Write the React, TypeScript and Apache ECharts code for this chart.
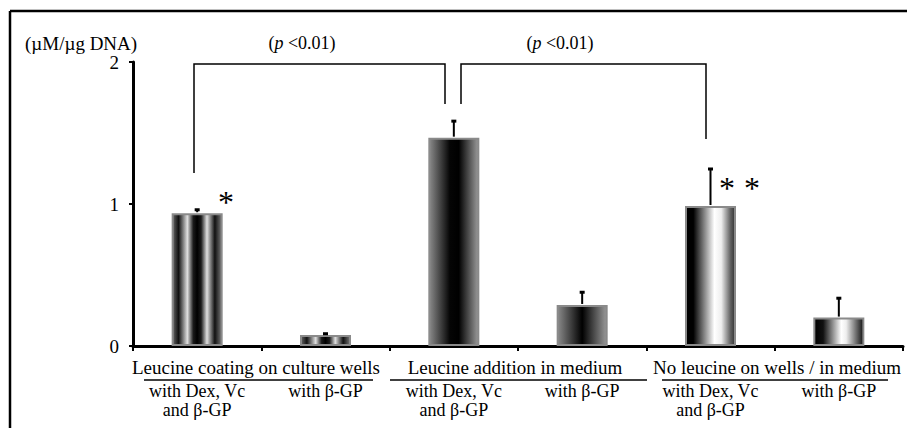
import React, { useEffect, useRef } from "react";
import * as echarts from "echarts";

const categories = ["with Dex, Vc\nand β-GP", "with β-GP", "with Dex, Vc\nand β-GP", "with β-GP", "with Dex, Vc\nand β-GP", "with β-GP"];
const groupLabels = ["Leucine coating on culture wells", "Leucine addition in medium", "No leucine on wells / in medium"];
const values = [0.935, 0.078, 1.467, 0.289, 0.986, 0.2];
const errors = [0.028, 0.012, 0.12, 0.093, 0.264, 0.14];
const yMin = 0;
const yMax = 2;
const yInterval = 1;
const unitLabel = "(µM/µg DNA)";
const pLabel = "<0.01)";

const FONT = "'Liberation Serif', 'Times New Roman', serif";

const gradients: [number, string][][] = [
  [[0, "#666"], [0.12, "#111"], [0.3, "#e0e0e0"], [0.42, "#1a1a1a"], [0.5, "#000"], [0.58, "#1a1a1a"], [0.7, "#e0e0e0"], [0.86, "#111"], [1, "#777"]],
  [[0, "#666"], [0.12, "#111"], [0.3, "#e0e0e0"], [0.42, "#1a1a1a"], [0.5, "#000"], [0.58, "#1a1a1a"], [0.7, "#e0e0e0"], [0.86, "#111"], [1, "#777"]],
  [[0, "#8a8a8a"], [0.42, "#050505"], [0.6, "#000"], [1, "#9a9a9a"]],
  [[0, "#8a8a8a"], [0.5, "#000"], [1, "#9a9a9a"]],
  [[0, "#000"], [0.15, "#000"], [0.58, "#fff"], [0.72, "#eee"], [0.9, "#666"], [1, "#333"]],
  [[0, "#000"], [0.18, "#111"], [0.55, "#fff"], [0.65, "#eee"], [1, "#111"]],
];

function grad(stops: [number, string][]) {
  return new echarts.graphic.LinearGradient(0, 0, 1, 0, stops.map(([offset, color]) => ({ offset, color })));
}

export default function App() {
  const ref = useRef<HTMLDivElement>(null);
  useEffect(() => {
    if (!ref.current) return;
    const chart = echarts.init(ref.current, null, { renderer: "svg" });
    const txt = (x: number, y: number, text: string, size: number, align: string = "center", extra: any = {}) => ({
      type: "text",
      x,
      y,
      style: { text, fontFamily: FONT, fontSize: size, fill: "#000", align, verticalAlign: "middle", ...extra },
      silent: true,
    });
    const line = (x1: number, y1: number, x2: number, y2: number, w = 1.5) => ({
      type: "line",
      shape: { x1, y1, x2, y2 },
      style: { stroke: "#000", lineWidth: w },
      silent: true,
    });
    const pText = (x: number) => ({
      type: "text",
      x,
      y: 43,
      style: {
        rich: { i: { fontStyle: "italic", fontFamily: FONT, fontSize: 18 }, n: { fontFamily: FONT, fontSize: 18 } },
        text: "{n|(}{i|p}{n| " + pLabel + "}",
        fill: "#000",
        align: "center",
        verticalAlign: "middle",
      },
    });
    const groupCenters = [256, 515, 777];
    const underlines = [[144, 373], [390, 647], [662, 888]];
    chart.setOption({
      animation: false,
      grid: { left: 133, right: 4, top: 62, bottom: 82 },
      xAxis: {
        type: "category",
        data: categories,
        axisLine: { lineStyle: { color: "#000", width: 3 } },
        axisTick: { show: true, length: 5, lineStyle: { color: "#000", width: 2 } },
        axisLabel: { fontFamily: FONT, fontSize: 18, color: "#000", lineHeight: 18.5, margin: 36, interval: 0 },
      },
      yAxis: {
        type: "value",
        min: yMin,
        max: yMax,
        interval: yInterval,
        splitLine: { show: false },
        axisLine: { show: true, lineStyle: { color: "#000", width: 3 } },
        axisTick: { show: true, length: 4, lineStyle: { color: "#000", width: 2 } },
        axisLabel: { fontFamily: FONT, fontSize: 19, color: "#000", margin: 14 },
      },
      series: [
        {
          type: "bar",
          barWidth: 51,
          data: values.map((v, i) => ({
            value: v,
            itemStyle: { color: grad(gradients[i]), borderColor: "#8a8a8a", borderWidth: 2 },
          })),
        },
        {
          type: "custom",
          z: 5,
          encode: { x: 0, y: 1 },
          data: values.map((v, i) => [i, v, errors[i]]),
          renderItem: (params: any, api: any) => {
            const x = api.value(0);
            const v = api.value(1);
            const e = api.value(2);
            const p0 = api.coord([x, v]);
            const p1 = api.coord([x, v + e]);
            return {
              type: "group",
              children: [
                { type: "line", shape: { x1: p0[0], y1: p0[1] - 1, x2: p1[0], y2: p1[1] }, style: { stroke: "#000", lineWidth: 2 } },
                { type: "line", shape: { x1: p1[0] - 2.5, y1: p1[1] + 0.5, x2: p1[0] + 2.5, y2: p1[1] + 0.5 }, style: { stroke: "#000", lineWidth: 3 } },
              ],
            };
          },
        },
      ],
      graphic: [
        line(10, 11, 907, 11, 2.5),
        line(10, 11, 10, 428, 2.5),
        txt(25, 43, unitLabel, 19, "left"),
        pText(302),
        pText(560),
        { type: "polyline", shape: { points: [[194, 173], [194, 64], [445, 64], [445, 104]] }, style: { stroke: "#000", lineWidth: 1.5, fill: "none" } },
        { type: "polyline", shape: { points: [[461, 104], [461, 64], [706, 64], [706, 139]] }, style: { stroke: "#000", lineWidth: 1.5, fill: "none" } },
        txt(226, 202, "*", 32),
        txt(727, 188, "*", 32),
        txt(752, 188, "*", 32),
        ...groupLabels.map((g, i) => txt(groupCenters[i], 367, g, 19)),
        ...underlines.map(([a, b]) => line(a, 380, b, 380, 1.5)),
      ],
    });
    return () => chart.dispose();
  }, []);
  return <div ref={ref} style={{ position: "fixed", left: 0, top: 0, width: 907, height: 428, background: "#fff" }} />;
}
